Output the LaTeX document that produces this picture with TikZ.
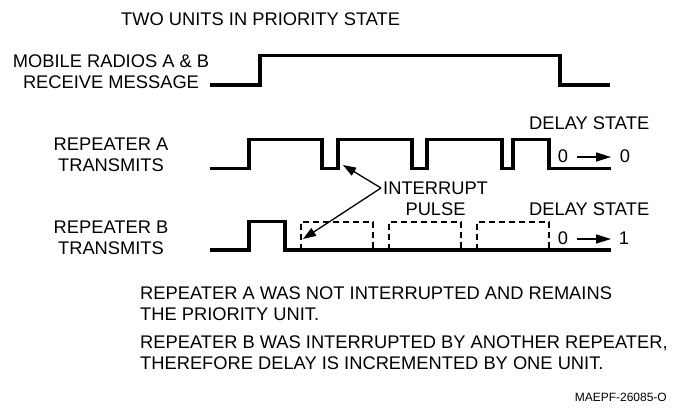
\documentclass[tikz,border=0pt]{standalone}
\usepackage{fontspec}
\setmainfont{Liberation Sans}
\usetikzlibrary{arrows.meta}
\begin{document}
\begin{tikzpicture}[x=1pt,y=-1pt,
  lbl/.style={inner sep=0pt,font=\fontsize{18.3}{21}\selectfont},
  small/.style={inner sep=0pt,font=\fontsize{12}{14}\selectfont},
  wave/.style={line width=3.4pt,line join=miter},
  dashbox/.style={line width=1.6pt,dash pattern=on 6pt off 4pt},
  ptr/.style={line width=1.3pt,-{Triangle[length=13pt,width=9pt]}},
  statearr/.style={line width=1.6pt,-{Triangle[length=15pt,width=9pt]}}]
\useasboundingbox (0,0) rectangle (676,407);
% title
\node[lbl,anchor=west] (title) at (121,19) {TWO UNITS IN PRIORITY STATE};
% left labels
\node[lbl,align=center] (lm) at (111,71.5) {MOBILE RADIOS A \& B\\RECEIVE MESSAGE};
\node[lbl,align=center] (la) at (111,154.5) {REPEATER A\\TRANSMITS};
\node[lbl,align=center] (lb) at (111,238) {REPEATER B\\TRANSMITS};
% waveforms
\draw[wave] (210,85) -- (260,85) -- (260,55.5) -- (560,55.5) -- (560,85) -- (610,85);
\draw[wave] (210,168.5) -- (249,168.5) -- (249,139.5) -- (322,139.5) -- (322,168.5)
  -- (338,168.5) -- (338,139.5) -- (412,139.5) -- (412,168.5)
  -- (427,168.5) -- (427,139.5) -- (502,139.5) -- (502,168.5)
  -- (513,168.5) -- (513,139.5) -- (549,139.5) -- (549,168.5) -- (611,168.5);
\draw[wave] (210,250) -- (249,250) -- (249,221.5) -- (285,221.5) -- (285,250) -- (611,250);
\draw[dashbox] (301,250) -- (301,222) -- (373,222) -- (373,250);
\draw[dashbox] (389,250) -- (389,222) -- (461,222) -- (461,250);
\draw[dashbox] (477,250) -- (477,222) -- (549,222) -- (549,250);
% interrupt pointer
\node[lbl,align=center,anchor=west] (intr) at (383,198.5) {INTERRUPT\\PULSE};
\coordinate (j) at (381,188);
\coordinate (ta) at (343,165);
\coordinate (tb) at (303,239);
\draw[ptr] (j) -- (ta);
\draw[ptr] (j) -- (tb);
% delay states
\node[lbl,anchor=west] (dsa) at (529,123.5) {DELAY STATE};
\node[lbl] (a0) at (563,156.5) {0};
\node[lbl] (a1) at (625,156.5) {0};
\draw[statearr] (577,157) -- (611,157);
\node[lbl,anchor=west] (dsb) at (529,209) {DELAY STATE};
\node[lbl] (b0) at (563,238.5) {0};
\node[lbl] (b1) at (624,238.5) {1};
\draw[statearr] (577,239) -- (611,239);
% notes
\node[lbl,align=left,anchor=north west] (na) at (140,287) {REPEATER A WAS NOT INTERRUPTED AND REMAINS\\THE PRIORITY UNIT.};
\node[lbl,align=left,anchor=north west] (nb) at (140,336) {REPEATER B WAS INTERRUPTED BY ANOTHER REPEATER,\\THEREFORE DELAY IS INCREMENTED BY ONE UNIT.};
\node[small,anchor=east] (code) at (667,397) {MAEPF-26085-O};
\end{tikzpicture}
\end{document}
